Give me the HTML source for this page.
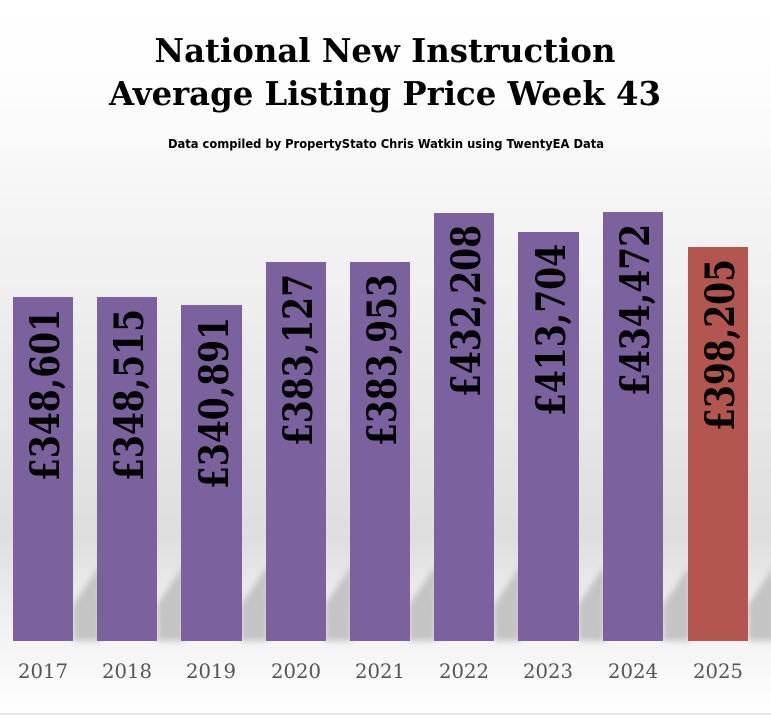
<!DOCTYPE html>
<html><head><meta charset="utf-8"><style>
html,body{margin:0;padding:0}
body{width:771px;height:715px;overflow:hidden;background:#fff}
</style></head><body>
<svg width="771" height="715" xmlns="http://www.w3.org/2000/svg">
<defs>
<linearGradient id="bg" x1="0" y1="0" x2="0" y2="1">
<stop offset="0" stop-color="#ffffff"/>
<stop offset="0.12" stop-color="#fdfdfd"/>
<stop offset="0.75" stop-color="#dedede"/>
<stop offset="0.85" stop-color="#eeeeee"/>
<stop offset="1" stop-color="#ffffff"/>
</linearGradient>
<filter id="bl"><feGaussianBlur stdDeviation="3"/></filter>
</defs>
<rect width="771" height="715" fill="url(#bg)"/>
<rect x="0" y="713" width="771" height="2" fill="#e6e6e6"/>
<text x="385" y="62" text-anchor="middle" font-family="DejaVu Serif, serif" font-weight="bold" font-size="33" fill="#000" textLength="461" lengthAdjust="spacingAndGlyphs">National New Instruction</text>
<text x="385" y="105" text-anchor="middle" font-family="DejaVu Serif, serif" font-weight="bold" font-size="33" fill="#000" textLength="552" lengthAdjust="spacingAndGlyphs">Average Listing Price Week 43</text>
<text x="386" y="148" text-anchor="middle" font-family="DejaVu Sans, sans-serif" font-weight="bold" font-size="12" fill="#000" textLength="436" lengthAdjust="spacingAndGlyphs">Data compiled by PropertyStato Chris Watkin using TwentyEA Data</text>
<g fill="#bdbdbd" opacity="0.85" filter="url(#bl)">
<polygon points="73,605 100,565 100,641 73,641"/>
<polygon points="157,605 184,565 184,641 157,641"/>
<polygon points="241,605 268,565 268,641 241,641"/>
<polygon points="325,605 352,565 352,641 325,641"/>
<polygon points="409,605 436,565 436,641 409,641"/>
<polygon points="494,605 521,565 521,641 494,641"/>
<polygon points="578,605 605,565 605,641 578,641"/>
<polygon points="663,605 690,565 690,641 663,641"/>
<polygon points="748,605 775,565 775,641 748,641"/>
</g>
<g fill="#7b629e">
<rect x="13" y="297" width="60" height="344"/>
<rect x="97" y="297" width="60" height="344"/>
<rect x="181" y="305" width="61" height="336"/>
<rect x="266" y="262" width="60" height="379"/>
<rect x="350" y="262" width="60" height="379"/>
<rect x="434" y="213" width="60" height="428"/>
<rect x="518" y="232" width="61" height="409"/>
<rect x="603" y="212" width="60" height="429"/>
</g>
<rect x="688" y="247" width="60" height="394" fill="#b35650"/>
<g font-family="DejaVu Serif, serif" font-weight="bold" font-size="40" fill="#000">
<text transform="translate(59,481) rotate(-90)" textLength="172" lengthAdjust="spacingAndGlyphs">£348,601</text>
<text transform="translate(143,481) rotate(-90)" textLength="172" lengthAdjust="spacingAndGlyphs">£348,515</text>
<text transform="translate(228,489) rotate(-90)" textLength="172" lengthAdjust="spacingAndGlyphs">£340,891</text>
<text transform="translate(312,446) rotate(-90)" textLength="172" lengthAdjust="spacingAndGlyphs">£383,127</text>
<text transform="translate(396,446) rotate(-90)" textLength="172" lengthAdjust="spacingAndGlyphs">£383,953</text>
<text transform="translate(480,397) rotate(-90)" textLength="172" lengthAdjust="spacingAndGlyphs">£432,208</text>
<text transform="translate(565,416) rotate(-90)" textLength="172" lengthAdjust="spacingAndGlyphs">£413,704</text>
<text transform="translate(649,396) rotate(-90)" textLength="172" lengthAdjust="spacingAndGlyphs">£434,472</text>
<text transform="translate(734,431) rotate(-90)" textLength="172" lengthAdjust="spacingAndGlyphs">£398,205</text>
</g>
<g font-family="DejaVu Serif, serif" font-size="20" fill="#555" text-anchor="middle">
<text x="43" y="678" textLength="50" lengthAdjust="spacingAndGlyphs">2017</text>
<text x="127" y="678" textLength="50" lengthAdjust="spacingAndGlyphs">2018</text>
<text x="211" y="678" textLength="50" lengthAdjust="spacingAndGlyphs">2019</text>
<text x="296" y="678" textLength="50" lengthAdjust="spacingAndGlyphs">2020</text>
<text x="380" y="678" textLength="50" lengthAdjust="spacingAndGlyphs">2021</text>
<text x="464" y="678" textLength="50" lengthAdjust="spacingAndGlyphs">2022</text>
<text x="548" y="678" textLength="50" lengthAdjust="spacingAndGlyphs">2023</text>
<text x="633" y="678" textLength="50" lengthAdjust="spacingAndGlyphs">2024</text>
<text x="718" y="678" textLength="50" lengthAdjust="spacingAndGlyphs">2025</text>
</g>
</svg>
</body></html>
